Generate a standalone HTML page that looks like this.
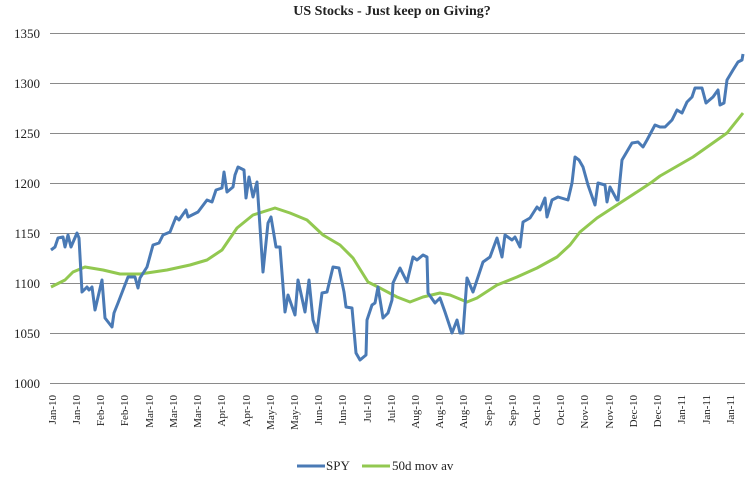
<!DOCTYPE html>
<html><head><meta charset="utf-8"><style>
html,body{margin:0;padding:0;background:#fff;}
svg{display:block;}
text{font-family:"Liberation Serif",serif;fill:#222;}
</style></head><body>
<svg width="753" height="477" viewBox="0 0 753 477" xmlns="http://www.w3.org/2000/svg">
<text x="392" y="15" text-anchor="middle" font-size="14" font-weight="bold">US Stocks  - Just keep on Giving?</text>
<g stroke="#8a8a8a" stroke-width="1">
<line x1="50" x2="745" y1="33.5" y2="33.5"/>
<line x1="50" x2="745" y1="83.5" y2="83.5"/>
<line x1="50" x2="745" y1="133.5" y2="133.5"/>
<line x1="50" x2="745" y1="183.5" y2="183.5"/>
<line x1="50" x2="745" y1="233.5" y2="233.5"/>
<line x1="50" x2="745" y1="283.5" y2="283.5"/>
<line x1="50" x2="745" y1="333.5" y2="333.5"/>
<line x1="50" x2="745" y1="383.5" y2="383.5"/>
</g>
<g font-size="13" text-anchor="end">
<text x="40" y="38">1350</text>
<text x="40" y="88">1300</text>
<text x="40" y="138">1250</text>
<text x="40" y="188">1200</text>
<text x="40" y="238">1150</text>
<text x="40" y="288">1100</text>
<text x="40" y="338">1050</text>
<text x="40" y="388">1000</text>
</g>
<polyline fill="none" stroke="#92c850" stroke-width="3" stroke-linejoin="round" points="51,287 65,280 73,272 85,267 103,270 120,274 140,274 167,270 190,265 207,260 222,250 237,228 253,215 275,208 290,213 307,220 323,235 340,245 353,258 368,282 380,288 397,297 410,302 423,297 440,293 450,295 467,302 477,298 497,285 517,277 537,268 557,257 570,245 580,232 597,218 620,203 640,190 652,182 660,176 693,157 727,133 743,113"/>
<polyline fill="none" stroke="#4a7ab5" stroke-width="3" stroke-linejoin="round" points="51,250 55,247 58,238 63,237 65,247 68,235 71,247 77,233 79,238 82,292 87,287 89,290 92,287 95,310 102,280 105,318 112,327 114,313 118,303 128,277 135,277 138,288 140,278 147,267 153,245 159,243 163,235 170,232 176,217 179,220 186,210 188,217 198,212 207,200 212,202 216,190 222,188 224,172 227,192 233,187 235,175 238,167 244,170 246,198 249,177 253,197 257,182 263,272 268,223 271,217 276,247 280,247 285,312 288,295 295,315 298,280 305,312 309,280 313,320 317,332 322,293 327,292 333,267 339,268 344,292 346,307 352,308 356,353 360,360 366,355 367,320 372,305 375,303 378,287 383,318 388,313 392,300 393,283 400,268 407,282 413,257 417,260 423,255 427,257 428,293 435,303 440,298 445,312 452,333 457,320 460,333 463,333 467,278 473,292 483,262 490,257 497,238 502,257 505,235 512,240 515,237 520,247 523,222 530,218 537,207 540,210 545,198 547,217 552,200 558,197 568,200 572,183 575,157 579,160 583,167 588,185 595,205 598,183 605,185 607,202 610,187 617,200 618,200 622,160 632,143 638,142 643,147 647,140 655,125 660,127 665,127 672,120 677,110 682,113 687,102 692,97 695,88 702,88 706,103 713,97 718,90 720,105 724,103 727,80 733,70 738,62 742,60 743,54"/>
<line x1="297" x2="325" y1="466" y2="466" stroke="#4a7ab5" stroke-width="3"/>
<text x="326" y="470" font-size="13">SPY</text>
<line x1="362" x2="390" y1="466" y2="466" stroke="#92c850" stroke-width="3"/>
<text x="392" y="470" font-size="13">50d mov av</text>
<g font-size="11" text-anchor="end">
<text transform="translate(56,395) rotate(-90)">Jan-10</text>
<text transform="translate(80,395) rotate(-90)">Jan-10</text>
<text transform="translate(104,395) rotate(-90)">Feb-10</text>
<text transform="translate(128,395) rotate(-90)">Feb-10</text>
<text transform="translate(153,395) rotate(-90)">Mar-10</text>
<text transform="translate(177,395) rotate(-90)">Mar-10</text>
<text transform="translate(201,395) rotate(-90)">Mar-10</text>
<text transform="translate(225,395) rotate(-90)">Apr-10</text>
<text transform="translate(250,395) rotate(-90)">Apr-10</text>
<text transform="translate(274,395) rotate(-90)">May-10</text>
<text transform="translate(298,395) rotate(-90)">May-10</text>
<text transform="translate(322,395) rotate(-90)">Jun-10</text>
<text transform="translate(346,395) rotate(-90)">Jun-10</text>
<text transform="translate(371,395) rotate(-90)">Jul-10</text>
<text transform="translate(395,395) rotate(-90)">Jul-10</text>
<text transform="translate(419,395) rotate(-90)">Aug-10</text>
<text transform="translate(443,395) rotate(-90)">Aug-10</text>
<text transform="translate(467,395) rotate(-90)">Aug-10</text>
<text transform="translate(492,395) rotate(-90)">Sep-10</text>
<text transform="translate(516,395) rotate(-90)">Sep-10</text>
<text transform="translate(540,395) rotate(-90)">Oct-10</text>
<text transform="translate(564,395) rotate(-90)">Oct-10</text>
<text transform="translate(588,395) rotate(-90)">Nov-10</text>
<text transform="translate(613,395) rotate(-90)">Nov-10</text>
<text transform="translate(637,395) rotate(-90)">Dec-10</text>
<text transform="translate(661,395) rotate(-90)">Dec-10</text>
<text transform="translate(685,395) rotate(-90)">Jan-11</text>
<text transform="translate(710,395) rotate(-90)">Jan-11</text>
<text transform="translate(734,395) rotate(-90)">Jan-11</text>
</g>
</svg>
</body></html>
